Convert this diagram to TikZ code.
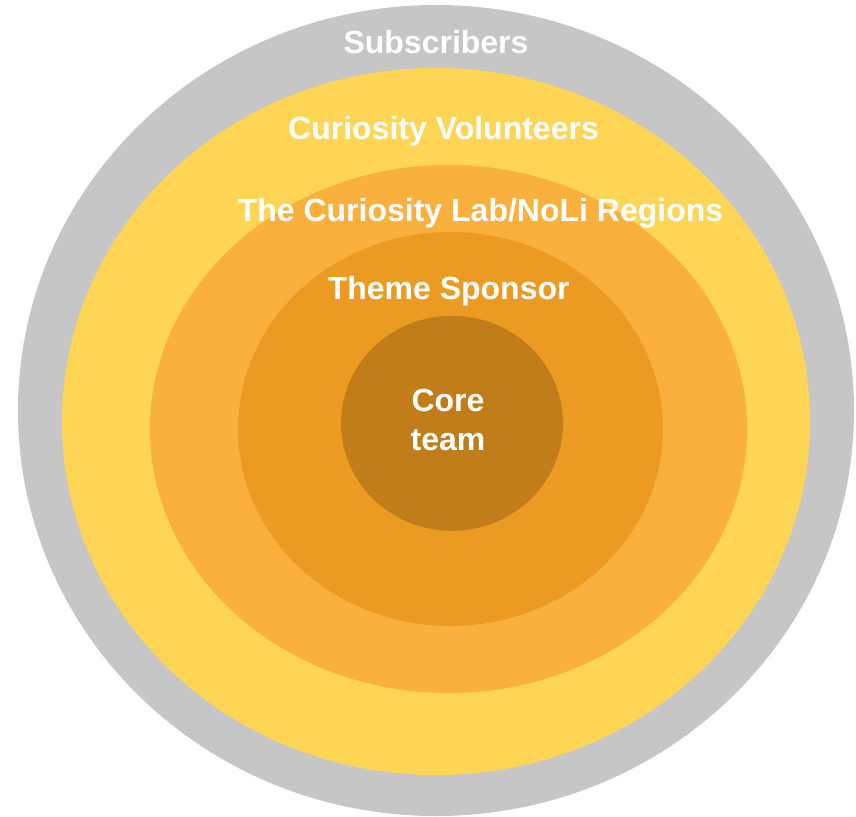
\documentclass[tikz,border=0pt]{standalone}
\usepackage{fontspec}
\setmainfont{Liberation Sans}
\begin{document}
\definecolor{ringgray}{HTML}{C6C6C6}
\definecolor{ringyellow}{HTML}{FED555}
\definecolor{ringlight}{HTML}{F9B03C}
\definecolor{ringdark}{HTML}{EC9B22}
\definecolor{ringcore}{HTML}{C07D1A}
\begin{tikzpicture}[x=1pt,y=-1pt,
  lbl/.style={text=white,font=\fontsize{32}{39}\selectfont\bfseries,inner sep=0pt,anchor=base,align=center}]
\useasboundingbox (0,0) rectangle (856,816);
% concentric rings, outermost first
\fill[ringgray]   (436,410.5) coordinate (subs)  ellipse [x radius=418pt, y radius=405.5pt];
\fill[ringyellow] (436,421.5) coordinate (vol)   ellipse [x radius=374pt, y radius=353.5pt];
\fill[ringlight]  (448.5,429) coordinate (lab)   ellipse [x radius=298.5pt, y radius=264pt];
\fill[ringdark]   (450.5,429) coordinate (spon)  ellipse [x radius=212.5pt, y radius=197pt];
\fill[ringcore]   (452,423.3) coordinate (core)  ellipse [x radius=111pt, y radius=107.5pt];
% ring labels
\node[lbl] (tsubs) at (436,53)   {Subscribers};
\node[lbl] (tvol)  at (443.5,139) {Curiosity Volunteers};
\node[lbl] (tlab)  at (480.5,221) {The Curiosity Lab/NoLi Regions};
\node[lbl] (tspon) at (448.7,299) {Theme Sponsor};
\node[lbl] (tcore1) at (448,411) {Core};
\node[lbl] (tcore2) at (448,450) {team};
\end{tikzpicture}
\end{document}
